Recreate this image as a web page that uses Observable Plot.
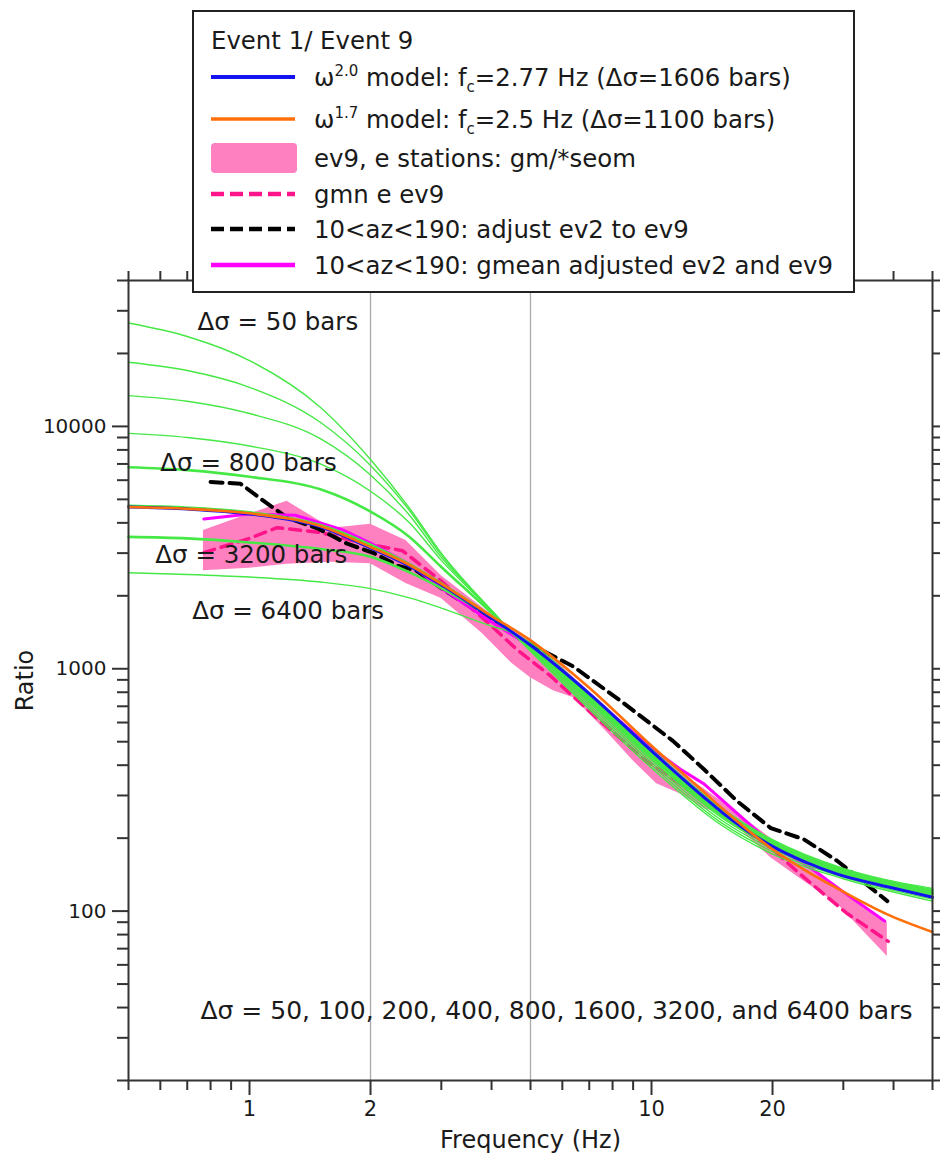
<!DOCTYPE html>
<html><head><meta charset="utf-8">
<script src="https://cdn.jsdelivr.net/npm/d3@7"></script>
<script src="https://cdn.jsdelivr.net/npm/@observablehq/plot@0.6"></script>
<style>
body{margin:0;background:#fff;font-family:"DejaVu Sans",sans-serif;}
#wrap{position:relative;width:940px;height:1167px;overflow:hidden;}
#legend{position:absolute;left:192px;top:10px;width:659px;height:279px;border:2px solid #222;background:#fff;}
.row{position:absolute;left:17px;height:36px;display:flex;align-items:center;font-size:24.4px;color:#1a1a1a;white-space:nowrap;}
.row svg{margin-right:17px;flex:none;}
.row sup{font-size:15px;vertical-align:10px;line-height:0;}
.row sub{font-size:15px;vertical-align:-6px;line-height:0;}
</style></head>
<body><div id="wrap"><div id="chart"></div><div id="legend"></div></div>
<script>
// ---- data ----
const greenF = [0.5,0.7,1,1.5,2,2.5,3,4,4.5,5,7,10,15,20,30,50];
const g50   = [26700,23500,18700,12000,7300,4600,3000,1740,1410,1180,680,390,225,172,136,110];
const g100  = [18400,17000,14500,10400,6900,4500,2950,1740,1410,1190,695,400,230,176,138,112];
const g200  = [13400,12700,11300,8900,6300,4300,2880,1740,1410,1200,710,410,236,180,140,114];
const g400  = [9360,9000,8300,7000,5400,4000,2800,1730,1410,1210,725,420,242,184,142,116];
const g800  = [6780,6600,6200,5500,4450,3500,2630,1700,1410,1220,740,430,247,188,144,118];
const g1600 = [4700,4620,4420,3920,3250,2700,2250,1640,1410,1230,760,440,252,191,146,120];
const g3200 = [3500,3450,3320,3120,2900,2500,2150,1620,1410,1245,775,452,258,194,148,122];
const g6400 = [2490,2450,2390,2280,2140,1960,1780,1500,1410,1280,790,465,264,197,150,124];
const greenStress = [50,100,200,400,800,1600,3200,6400];
const greenThick  = [false,false,false,false,true,true,true,false];

const blueF = [0.5,0.7,1,1.5,2,2.5,3,4,5,7,10,13.5,15,20,24,29,38.6,50];
const blueV = [4650,4560,4350,3850,3150,2650,2220,1620,1250,790,458,295,255,185,160,142,126,114];
const orangeF = [0.5,0.7,1,1.5,2,2.5,3,4,5,7,10,13.5,15,20,24,29,38.6,50];
const orangeV = [4650,4570,4380,3880,3180,2680,2240,1650,1310,835,481,310,265,180,148,124,97,82];

const bandF  = [0.768,1.0,1.24,1.6,2.0,2.45,3.0,3.8,4.5,5.0,5.7,6.4,7.7,9.0,10.3,11.8,13.5,15.1,19.8,23.9,29,38.6];
const bandHi = [3720,4350,4910,3800,3950,3380,2420,1785,1450,1330,1110,920,700,550,450,375,320,280,200,155,125,90];
const bandLo = [2540,2600,2700,2750,2715,2250,1950,1395,1050,918,811,759,554,417,335,304,265,252,166,133,107,65];

const pinkF = [0.77,1.0,1.17,1.5,1.9,2.4,3.0,4.0,4.6,5.2,5.6,7.3,9.7,11.8,15,20,23,26.9,30.6,38.8];
const pinkV = [3015,3450,3820,3650,3310,3070,2300,1500,1210,1030,936,628,417,335,250,180,146,117,98,75];

const blackF = [0.8,0.95,1.08,1.24,1.48,1.75,2.03,2.34,2.6,3.0,4.0,4.8,6.4,8.5,11.3,13.5,16.3,19.8,21.5,23.9,29,38.6];
const blackV = [5900,5800,4950,4200,3790,3280,3010,2660,2540,2150,1580,1305,1020,724,504,385,285,220,210,198,161,110];

const magF = [0.77,1,1.3,1.7,2,2.5,3,4,5,7,10,11.8,13.5,20,25,30,38];
const magV = [4150,4350,4300,3750,3300,2700,2150,1560,1240,780,470,385,335,188,150,120,91];

const xMajor = [1,2,10,20];
const xMinor = [0.5,0.6,0.7,0.8,0.9,3,4,5,6,7,8,9,30,40,50];
const yMajor = [100,1000,10000];
const yMinor = [20,30,40,50,60,70,80,90,200,300,400,500,600,700,800,900,2000,3000,4000,5000,6000,7000,8000,9000,20000,30000,40000];
const gridX = [2,5];

const annF = [0.742,0.60,0.583,0.72];
const annV = [26900,7030,2930,1736];
const annText = ["Δσ = 50 bars","Δσ = 800 bars","Δσ = 3200 bars","Δσ = 6400 bars"];
const noteF = [0.755];
const noteV = [38.6];
const noteText = ["Δσ = 50, 100, 200, 400, 800, 1600, 3200, and 6400 bars"];

// ---- build ----
const greens = [g50,g100,g200,g400,g800,g1600,g3200,g6400];
const greenRows = [];
greens.forEach((arr,i)=>arr.forEach((v,j)=>greenRows.push({s:greenStress[i], thick:greenThick[i], f:greenF[j], v})));
const zip = (F,V)=>F.map((f,i)=>({f, v:V[i]}));
const band = bandF.map((f,i)=>({f, lo:bandLo[i], hi:bandHi[i]}));
const ann = annF.map((f,i)=>({f, v:annV[i], t:annText[i]}));
const note = noteF.map((f,i)=>({f, v:noteV[i], t:noteText[i]}));

const GREEN = "#46e846", BLUE = "#1414f0", ORANGE = "#ff700a", BAND = "#ff80c0", PINK = "#ff1489", MAG = "#ff00ff";

const chart = Plot.plot({
  width: 940, height: 1167,
  marginLeft: 128, marginRight: 8, marginTop: 280, marginBottom: 87,
  style: {fontFamily: "DejaVu Sans, sans-serif", background: "#fff", color: "#1a1a1a"},
  x: {type: "log", domain: [0.5, 50]},
  y: {type: "log", domain: [20, 40000]},
  marks: [
    Plot.ruleX(gridX, {stroke: "#aaa", strokeWidth: 1.3}),
    Plot.areaY(band, {x: "f", y1: "lo", y2: "hi", fill: BAND, curve: "linear"}),
    Plot.line(zip(pinkF,pinkV), {x:"f", y:"v", stroke: PINK, strokeWidth: 3.5, strokeDasharray: "11,7"}),
    Plot.line(zip(blackF,blackV), {x:"f", y:"v", stroke: "#000", strokeWidth: 4, strokeDasharray: "12,7"}),
    Plot.line(zip(magF,magV), {x:"f", y:"v", stroke: MAG, strokeWidth: 3}),
    Plot.line(greenRows.filter(d=>!d.thick), {x:"f", y:"v", z:"s", stroke: GREEN, strokeWidth: 1.4, curve: "monotone-x"}),
    Plot.line(greenRows.filter(d=>d.thick), {x:"f", y:"v", z:"s", stroke: GREEN, strokeWidth: 2.6, curve: "monotone-x"}),
    Plot.line(zip(blueF,blueV), {x:"f", y:"v", stroke: BLUE, strokeWidth: 3, curve: "monotone-x"}),
    Plot.line(zip(orangeF,orangeV), {x:"f", y:"v", stroke: ORANGE, strokeWidth: 2.6, curve: "monotone-x"}),
    Plot.text(ann, {x:"f", y:"v", text:"t", textAnchor:"start", fontSize: 24.5, fill:"#1a1a1a"}),
    Plot.text(note, {x:"f", y:"v", text:"t", textAnchor:"start", fontSize: 25, fill:"#1a1a1a"}),
    Plot.frame({stroke: "#333", strokeWidth: 2}),
    Plot.axisX({ticks: xMajor, anchor: "bottom", tickSize: 15, tickPadding: 6, fontSize: 21, tickFormat: d=>String(d), label: null, stroke: "#333", strokeWidth: 2, fill:"#1a1a1a"}),
    Plot.axisX({ticks: xMinor, anchor: "bottom", tickSize: 10, tickFormat: ()=>"", label: null, stroke: "#333", strokeWidth: 2}),
    Plot.axisX({ticks: xMajor, anchor: "top", tickSize: 15, tickFormat: ()=>"", label: null, stroke: "#333", strokeWidth: 2}),
    Plot.axisX({ticks: xMinor, anchor: "top", tickSize: 10, tickFormat: ()=>"", label: null, stroke: "#333", strokeWidth: 2}),
    Plot.axisY({ticks: yMajor, anchor: "left", tickSize: 16, tickPadding: 6, fontSize: 20, tickFormat: d=>String(d), label: null, stroke: "#333", strokeWidth: 2, fill:"#1a1a1a"}),
    Plot.axisY({ticks: yMinor, anchor: "left", tickSize: 11, tickFormat: ()=>"", label: null, stroke: "#333", strokeWidth: 2}),
    Plot.axisY({ticks: yMajor, anchor: "right", tickSize: 16, tickFormat: ()=>"", label: null, stroke: "#333", strokeWidth: 2}),
    Plot.axisY({ticks: yMinor, anchor: "right", tickSize: 11, tickFormat: ()=>"", label: null, stroke: "#333", strokeWidth: 2}),
    Plot.text(["Frequency (Hz)"], {frameAnchor: "bottom", lineAnchor: "middle", dy: 60, fontSize: 24, fill: "#1a1a1a"}),
    Plot.text(["Ratio"], {frameAnchor: "left", textAnchor: "middle", lineAnchor: "middle", dx: -103, rotate: -90, fontSize: 24, fill: "#1a1a1a"})
  ]
});
document.getElementById("chart").appendChild(chart);

// ---- legend ----
const legendTitle = "Event 1/ Event 9";
const legendItems = [
  {kind:"line", color: BLUE, w: 4, dash: null, html: "ω<sup>2.0</sup> model: f<sub>c</sub>=2.77 Hz (Δσ=1606 bars)"},
  {kind:"line", color: ORANGE, w: 3.5, dash: null, html: "ω<sup>1.7</sup> model: f<sub>c</sub>=2.5 Hz (Δσ=1100 bars)"},
  {kind:"box", color: BAND, html: "ev9, e stations: gm/*seom"},
  {kind:"line", color: PINK, w: 4.5, dash: "13,6", html: "gmn e ev9"},
  {kind:"line", color: "#000", w: 4.5, dash: "13,6", html: "10&lt;az&lt;190: adjust ev2 to ev9"},
  {kind:"line", color: MAG, w: 4.5, dash: null, html: "10&lt;az&lt;190: gmean adjusted ev2 and ev9"}
];
const rowCenters = [65,107,146,182,217,253];
const lg = document.getElementById("legend");
const t = document.createElement("div");
t.className = "row"; t.style.top = (28-18)+"px"; t.style.left = "17px"; t.textContent = legendTitle;
lg.appendChild(t);
legendItems.forEach((it,i)=>{
  const r = document.createElement("div");
  r.className = "row"; r.style.top = (rowCenters[i]-18)+"px";
  let sym;
  if (it.kind === "box") sym = `<svg width="86" height="32"><rect x="0" y="1" width="86" height="30" rx="4" fill="${it.color}"/></svg>`;
  else sym = `<svg width="86" height="32"><line x1="0" x2="84" y1="16" y2="16" stroke="${it.color}" stroke-width="${it.w}" ${it.dash?`stroke-dasharray="${it.dash}"`:""}/></svg>`;
  r.innerHTML = sym + `<span>${it.html}</span>`;
  lg.appendChild(r);
});
</script></body></html>
